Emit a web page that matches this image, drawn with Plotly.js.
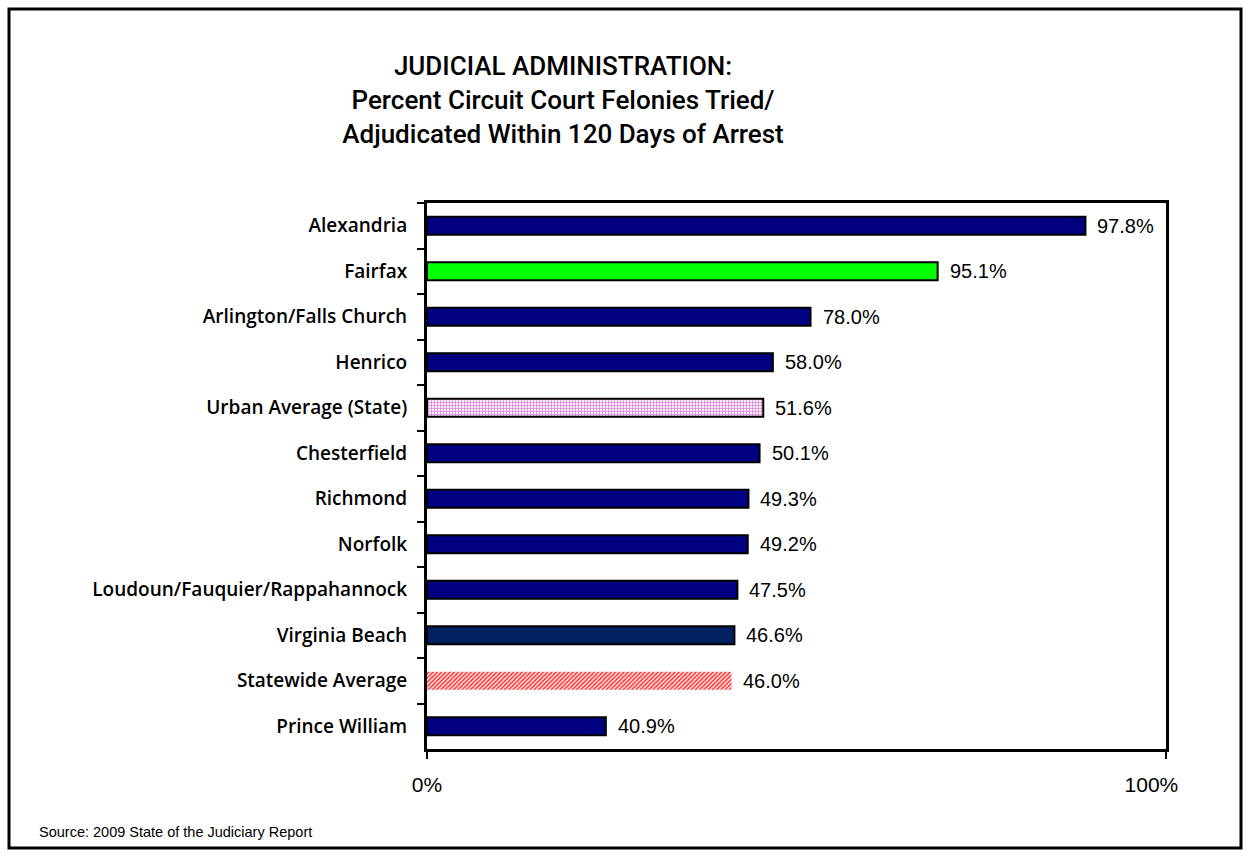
<!DOCTYPE html>
<html>
<head>
<meta charset="utf-8">
<script src="https://cdn.plot.ly/plotly-3.0.1.min.js"></script>
<style>
  html, body { margin: 0; padding: 0; background: #fff; }
  #chart { width: 1249px; height: 856px; }
</style>
</head>
<body>
<div id="chart"></div>
<script>
// Categories, top to bottom
const categories = [
  "Alexandria", "Fairfax", "Arlington/Falls Church", "Henrico",
  "Urban Average (State)", "Chesterfield", "Richmond", "Norfolk",
  "Loudoun/Fauquier/Rappahannock", "Virginia Beach", "Statewide Average", "Prince William"
];
// Printed value labels
const labelValues = [97.8, 95.1, 78.0, 58.0, 51.6, 50.1, 49.3, 49.2, 47.5, 46.6, 46.0, 40.9];
// Bar lengths as drawn against the 0%–100% axis
const barLengths = [89.1, 69.1, 51.9, 46.8, 45.5, 45.0, 43.5, 43.4, 42.0, 41.6, 41.2, 24.2];
// Fill colours per bar
const barColors = ["#000080", "#00FF00", "#000080", "#000080", "#FFFFFF", "#000080",
                   "#000080", "#000080", "#000080", "#002060", "#FFFFFF", "#000080"];
// Pattern styles per bar ("" = solid)
const patternShapes = ["", "", "", "", "+", "", "", "", "", "", "/", ""];
const patternFg = ["", "", "", "", "#D27ED2", "", "", "", "", "", "#FF1010", ""];
const patternBg = ["", "", "", "", "#FBEFFB", "", "", "", "", "", "#FFE0E0", ""];
const outlineWidths = [2, 2, 2, 2, 2, 2, 2, 2, 2, 2, 0, 2];
const xTickVals = [0, 100];
const xTickText = ["0%", "100%\u00a0\u00a0\u00a0\u00a0\u00a0"];

const ML = 427, MR = 83, MT = 203, MB = 107, W = 1249, H = 856;
const pw = W - ML - MR, ph = H - MT - MB;
const px2x = p => (p - ML) / pw;
const py2y = p => 1 - (p - MT) / ph;

const idx = categories.map((c, i) => i);
const solidIdx = idx.filter(i => patternShapes[i] === "");
const pick = (arr, ids) => ids.map(i => arr[i]);

const traces = [{
  type: "bar", orientation: "h",
  y: pick(categories, solidIdx), x: pick(barLengths, solidIdx),
  width: 0.4,
  marker: { color: pick(barColors, solidIdx), line: { color: "#000", width: 2 } },
  hoverinfo: "skip"
}];
idx.filter(i => patternShapes[i] !== "").forEach(i => {
  traces.push({
    type: "bar", orientation: "h",
    y: [categories[i]], x: [barLengths[i]],
    width: 0.4,
    marker: {
      color: barColors[i],
      line: { color: "#000", width: outlineWidths[i] },
      pattern: { shape: patternShapes[i], fgcolor: patternFg[i], bgcolor: patternBg[i], size: 3, solidity: 0.4 }
    },
    hoverinfo: "skip"
  });
});

const annotations = categories.map((c, i) => ({
  x: barLengths[i], y: c, xref: "x", yref: "y",
  text: labelValues[i].toFixed(1) + "%",
  showarrow: false, xanchor: "left", yanchor: "middle", xshift: 10,
  font: { family: "Liberation Sans, Arial, sans-serif", size: 20, color: "#000" }
}));

annotations.push({
  xref: "paper", yref: "paper", x: px2x(37), y: py2y(832),
  xanchor: "left", yanchor: "middle", showarrow: false,
  text: "Source: 2009 State of the Judiciary Report",
  font: { family: "Liberation Sans, Arial, sans-serif", size: 14.5, color: "#000" }
});

const layout = {
  width: W, height: H,
  margin: { l: ML, r: MR, t: MT, b: MB, pad: 0 },
  paper_bgcolor: "#fff", plot_bgcolor: "#fff",
  showlegend: false,
  barmode: "overlay",
  title: {
    text: "JUDICIAL ADMINISTRATION:<br>Percent Circuit Court Felonies Tried/<br>Adjudicated Within 120 Days of Arrest",
    x: 563 / W, xref: "container", xanchor: "center",
    y: 1 - 75 / H, yref: "container", yanchor: "middle",
    font: { family: "Roboto, Liberation Sans, sans-serif", size: 26, weight: 500, color: "#000" }
  },
  xaxis: {
    range: [0, 100], fixedrange: true,
    tickvals: xTickVals, ticktext: xTickText,
    ticks: "outside", ticklen: 7, tickwidth: 2, tickcolor: "#000",
    ticklabelstandoff: 8,
    showgrid: false, zeroline: false,
    showline: true, linecolor: "#000", linewidth: 3, mirror: true,
    tickfont: { family: "Liberation Sans, Arial, sans-serif", size: 21, color: "#000" }
  },
  yaxis: {
    type: "category", categoryorder: "array", categoryarray: categories,
    autorange: "reversed", fixedrange: true,
    ticks: "outside", tickson: "boundaries", ticklen: 7, tickwidth: 2, tickcolor: "#000",
    ticklabelstandoff: 13,
    showgrid: false, zeroline: false,
    showline: true, linecolor: "#000", linewidth: 3, mirror: true,
    tickfont: { family: "Open Sans, Liberation Sans, sans-serif", size: 19, weight: 600, color: "#000" }
  },
  annotations: annotations,
  shapes: [{
    type: "rect", xref: "paper", yref: "paper",
    x0: px2x(9), x1: px2x(1241), y0: py2y(848), y1: py2y(9),
    line: { color: "#000", width: 3 }, fillcolor: "rgba(0,0,0,0)", layer: "above"
  }]
};

Plotly.newPlot("chart", traces, layout, { displayModeBar: false, staticPlot: true });
</script>
</body>
</html>
